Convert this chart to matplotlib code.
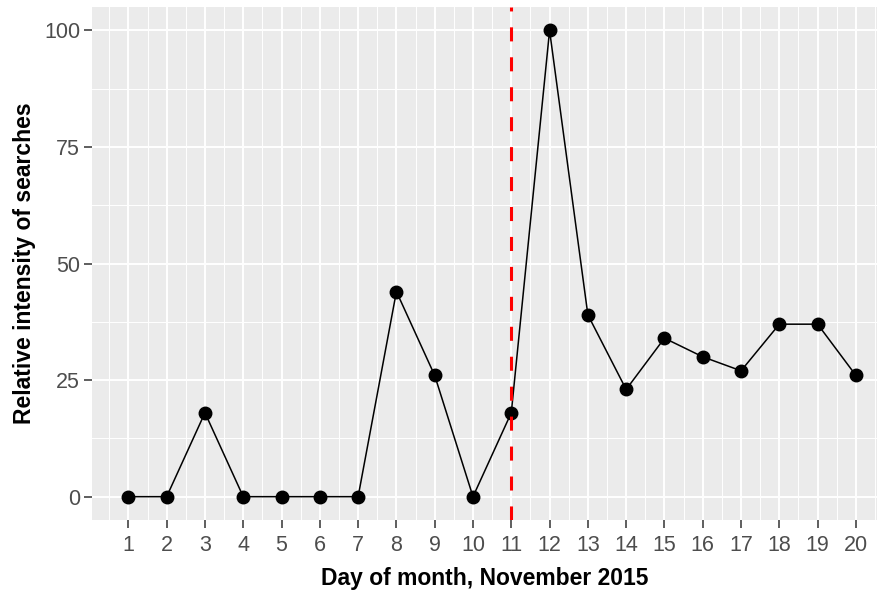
import matplotlib
matplotlib.use('Agg')
import matplotlib.pyplot as plt
import numpy as np

days = list(range(1, 21))
intensity = [0, 0, 18, 0, 0, 0, 0, 44, 26, 0, 18, 100, 39, 23, 34, 30, 27, 37, 37, 26]
event_day = 11
y_ticks = [0, 25, 50, 75, 100]

plt.rcParams['font.family'] = ['Liberation Sans', 'DejaVu Sans']

fig = plt.figure(figsize=(8.82, 5.97), dpi=100)
ax = fig.add_axes([0.1043, 0.129, 0.890, 0.859])
ax.set_facecolor('#EBEBEB')

# grid like ggplot: major + minor lines
ax.set_xticks(days)
ax.set_xticks(np.arange(0.5, 21, 1), minor=True)
ax.set_yticks(y_ticks)
ax.set_yticks(np.arange(-12.5, 110, 25), minor=True)
ax.grid(which='major', color='white', linewidth=1.4)
ax.grid(which='minor', color='white', linewidth=0.7)
ax.set_axisbelow(True)

ax.set_xlim(0.05, 20.55)
ax.set_ylim(-5, 105)

for s in ax.spines.values():
    s.set_visible(False)

ax.tick_params(axis='both', which='major', colors='#333333', labelcolor='#4D4D4D',
               labelsize=15.5, length=5.5, width=1.1, pad=3)
ax.tick_params(axis='x', which='major', pad=5)
ax.tick_params(axis='both', which='minor', length=0)

ax.plot(days, intensity, color='black', linewidth=1.1, marker='o', markersize=9, zorder=3)
ax.axvline(event_day, color='red', linestyle=(0, (4.6, 5.2)), linewidth=2.2, zorder=4)

ax.set_xlabel('Day of month, November 2015', fontsize=16.5, fontweight='bold', labelpad=8)
ax.set_ylabel('Relative intensity of searches', fontsize=16.5, fontweight='bold', labelpad=6)

fig.savefig('out.png', dpi=100)
